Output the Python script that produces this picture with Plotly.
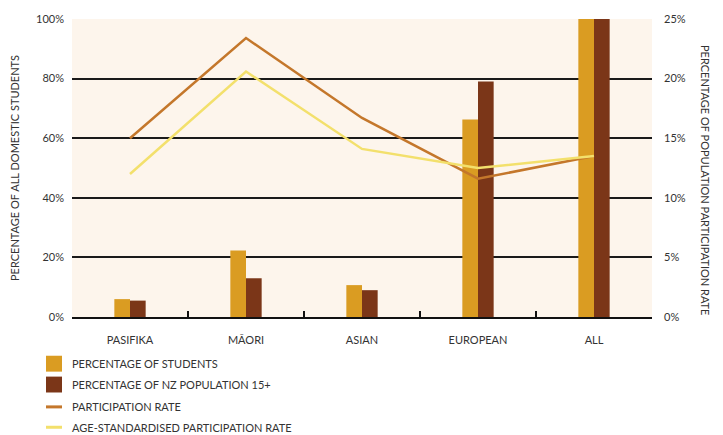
import plotly.graph_objects as go

# Ethnic groups shown along the bottom
groups = ["PASIFIKA", "MĀORI", "ASIAN", "EUROPEAN", "ALL"]

# Left axis: share of domestic students vs share of NZ population aged 15+ (%)
pct_students = [6.0, 22.3, 10.7, 66.3, 100.0]
pct_population = [5.5, 13.0, 9.0, 79.0, 100.0]

# Right axis: participation rates (%)
participation_rate = [15.0, 23.4, 16.7, 11.6, 13.5]
age_std_participation = [12.0, 20.6, 14.1, 12.5, 13.5]

left_ticks = [0, 20, 40, 60, 80, 100]
right_ticks = [0, 5, 10, 15, 20, 25]

GOLD = "#DA9C22"
BROWN = "#7B3618"
RUST = "#C4772B"
YELLOW = "#F3E06C"
BG = "#FDF5EC"
TEXT = "#333333"
FONT = "Lato, Liberation Sans, sans-serif"
FS = 11

W, H = 723, 435
ML, MR, MT, MB = 72, 71, 17, 118
PW, PH = W - ML - MR, H - MT - MB

fig = go.Figure()
fig.add_trace(go.Bar(x=groups, y=pct_students, name="PERCENTAGE OF STUDENTS",
                     marker=dict(color=GOLD, line_width=0)))
fig.add_trace(go.Bar(x=groups, y=pct_population, name="PERCENTAGE OF NZ POPULATION 15+",
                     marker=dict(color=BROWN, line_width=0)))
fig.add_trace(go.Scatter(x=groups, y=participation_rate, name="PARTICIPATION RATE",
                         mode="lines", line=dict(color=RUST, width=2.5), yaxis="y2"))
fig.add_trace(go.Scatter(x=groups, y=age_std_participation,
                         name="AGE-STANDARDISED PARTICIPATION RATE",
                         mode="lines", line=dict(color=YELLOW, width=2.5), yaxis="y2"))


def px_x(p):
    return (p - ML) / PW


def px_y(p):
    return (H - MB - p) / PH


# Legend drawn below the plot: swatch + label per series
legend_items = [
    ("PERCENTAGE OF STUDENTS", GOLD, "box", 364),
    ("PERCENTAGE OF NZ POPULATION 15+", BROWN, "box", 385),
    ("PARTICIPATION RATE", RUST, "line", 407.5),
    ("AGE-STANDARDISED PARTICIPATION RATE", YELLOW, "line", 428),
]
shapes = []
annotations = []
for label, color, kind, cy in legend_items:
    if kind == "box":
        shapes.append(dict(type="rect", xref="paper", yref="paper",
                           x0=px_x(46), x1=px_x(62), y0=px_y(cy + 8), y1=px_y(cy - 8),
                           fillcolor=color, line_width=0))
    else:
        shapes.append(dict(type="line", xref="paper", yref="paper",
                           x0=px_x(46), x1=px_x(62), y0=px_y(cy), y1=px_y(cy),
                           line=dict(color=color, width=3)))
    annotations.append(dict(text=label, xref="paper", yref="paper",
                            x=px_x(70), y=px_y(cy), xanchor="left", yanchor="middle",
                            showarrow=False, font=dict(size=FS, color=TEXT, family=FONT)))

# Right-hand axis title reads top to bottom
annotations.append(dict(text="PERCENTAGE OF POPULATION PARTICIPATION RATE",
                        xref="paper", yref="paper", x=px_x(705), y=px_y(179),
                        textangle=90, showarrow=False, xanchor="center", yanchor="middle",
                        font=dict(size=FS, color=TEXT, family=FONT)))

fig.update_layout(
    width=W, height=H,
    margin=dict(l=ML, r=MR, t=MT, b=MB),
    paper_bgcolor="white", plot_bgcolor=BG,
    barmode="group", bargap=0.73, bargroupgap=0,
    showlegend=False,
    font=dict(family=FONT, size=FS, color=TEXT),
    xaxis=dict(type="category", range=[-0.5, 4.5], showline=True, linecolor="#111",
               linewidth=2, ticks="inside", tickson="boundaries", ticklen=6,
               tickcolor="#111", tickwidth=1.5, showgrid=False,
               ticklabelstandoff=12, tickfont=dict(size=FS, color=TEXT)),
    yaxis=dict(range=[0, 100], tickvals=left_ticks,
               ticktext=[f"{v}%" for v in left_ticks], showgrid=True,
               gridcolor="#1a1a1a", gridwidth=1.5, zeroline=False, showline=False,
               ticks="", ticklabelstandoff=7, tickfont=dict(size=FS, color=TEXT),
               title=dict(text="PERCENTAGE OF ALL DOMESTIC STUDENTS", standoff=14,
                          font=dict(size=FS, color=TEXT))),
    yaxis2=dict(range=[0, 25], overlaying="y", side="right", tickvals=right_ticks,
                ticktext=[f"{v}%" for v in right_ticks], showgrid=False,
                zeroline=False, showline=False, ticks="", ticklabelstandoff=11,
                tickfont=dict(size=FS, color=TEXT)),
    shapes=shapes,
    annotations=annotations,
)

fig.write_html("out.html")
